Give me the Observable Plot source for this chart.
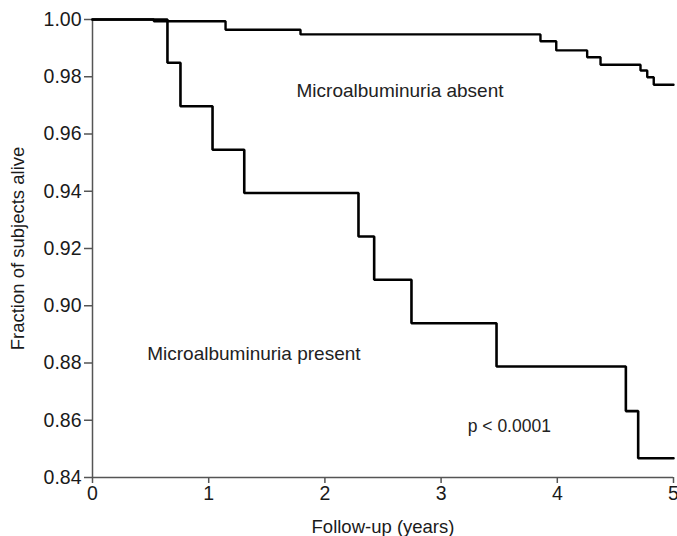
<!DOCTYPE html>
<html>
<head>
<meta charset="utf-8">
<script src="https://cdn.jsdelivr.net/npm/d3@7"></script>
<script src="https://cdn.jsdelivr.net/npm/@observablehq/plot@0.6"></script>
<style>
  html, body { margin: 0; padding: 0; background: #fff; }
</style>
</head>
<body>
<div id="chart"></div>
<script>
// Microalbuminuria present (Kaplan-Meier steps)
const presentTimes  = [0, 0.645, 0.757, 1.033, 1.306, 2.289, 2.424, 2.745, 3.477, 4.590, 4.696, 5];
const presentValues = [1, 0.9849, 0.9697, 0.9545, 0.9394, 0.9242, 0.9091, 0.8939, 0.8788, 0.8632, 0.8467, 0.8467];

// Microalbuminuria absent
const absentTimes  = [0, 0.528, 1.145, 1.790, 3.855, 3.991, 4.257, 4.372, 4.716, 4.774, 4.830, 5];
const absentValues = [1, 0.9994, 0.9964, 0.9948, 0.9924, 0.9892, 0.9868, 0.9842, 0.9822, 0.9798, 0.9772, 0.9772];

const xTicks = [0, 1, 2, 3, 4, 5];
const yTicks = [0.84, 0.86, 0.88, 0.90, 0.92, 0.94, 0.96, 0.98, 1.00];

const labels = [
  {x: 1.756, y: 0.9752, text: "Microalbuminuria absent", size: 19},
  {x: 0.471, y: 0.8833, text: "Microalbuminuria present", size: 19},
  {x: 3.229, y: 0.8577, text: "p < 0.0001", size: 17.5}
];

const present = presentTimes.map((t, i) => ({t, s: presentValues[i]}));
const absent = absentTimes.map((t, i) => ({t, s: absentValues[i]}));

const chart = Plot.plot({
  width: 677,
  height: 536,
  marginLeft: 92,
  marginRight: 4,
  marginTop: 19,
  marginBottom: 59,
  style: {fontFamily: "'Liberation Sans', Arial, sans-serif", fontSize: "19.5px", color: "#1a1a1a", background: "#fff"},
  x: {domain: [0, 5]},
  y: {domain: [0.84, 1.0]},
  marks: [
    Plot.axisX({ticks: xTicks, tickSize: 6, tickPadding: 3, tickFormat: d3.format("d"), label: null, stroke: "#555", strokeWidth: 1.5}),
    Plot.axisX({ticks: [], label: "Follow-up (years)", labelAnchor: "center", labelArrow: "none", labelOffset: 55, fontSize: "18.5px"}),
    Plot.axisY({ticks: yTicks, tickSize: 8, tickPadding: 3, tickFormat: d3.format(".2f"), label: null, stroke: "#555", strokeWidth: 1.5}),
    Plot.axisY({ticks: [], label: "Fraction of subjects alive", labelAnchor: "center", labelArrow: "none", labelOffset: 82, fontSize: "18.5px"}),
    Plot.ruleX([0], {stroke: "#555", strokeWidth: 1.5}),
    Plot.ruleY([0.84], {stroke: "#555", strokeWidth: 1.5}),
    Plot.line(absent, {x: "t", y: "s", curve: "step-after", stroke: "#000", strokeWidth: 2.4, strokeLinejoin: "miter"}),
    Plot.line(present, {x: "t", y: "s", curve: "step-after", stroke: "#000", strokeWidth: 2.6, strokeLinejoin: "miter"}),
    Plot.text(labels, {x: "x", y: "y", text: "text", fontSize: "size", textAnchor: "start", fill: "#222"})
  ]
});
document.getElementById("chart").appendChild(chart);
</script>
</body>
</html>
